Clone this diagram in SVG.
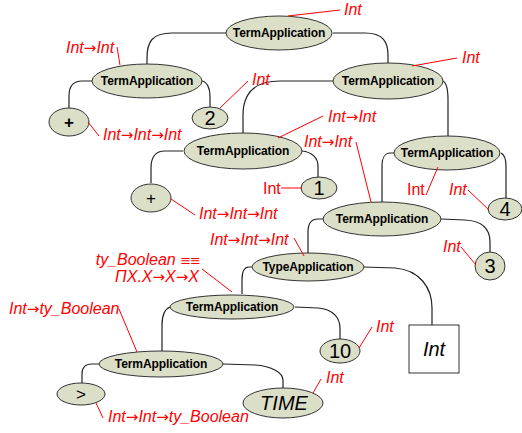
<svg xmlns="http://www.w3.org/2000/svg" width="522" height="433" viewBox="0 0 522 433">
<style>
.n ellipse{fill:#dcdfc8;stroke:#333;stroke-width:1}
.n rect{fill:#fff;stroke:#333;stroke-width:1}
.lbl{font-family:"Liberation Sans",Arial,sans-serif;font-weight:bold;font-size:12px;fill:#000;text-anchor:middle;letter-spacing:-0.1px}
.num{font-family:"Liberation Sans",Arial,sans-serif;font-size:20px;fill:#000;text-anchor:middle}
.it{font-style:italic}
.conn path{fill:none;stroke:#222;stroke-width:1.2}
.ann line{stroke:#f00;stroke-width:1}
.ann text{font-family:"Liberation Sans",Arial,sans-serif;font-size:16px;font-style:italic;fill:#f00}
.ann text.up{font-style:normal}
.ar{font-family:"DejaVu Sans",sans-serif;font-style:normal;font-size:15px}
.eq{font-family:"DejaVu Sans",sans-serif;font-style:normal;font-size:13px;letter-spacing:-1px}
</style>
<rect width="522" height="433" fill="#fff"/>
<g id="connectors" class="conn">
<path d="M226,33 L172,33 C152,33 147,42 147,58 L147,64"/>
<path d="M333,33 L365,33 C383,33 388,42 388,55 L388,63"/>
<path d="M92,81 L82,81 C72,81 69,88 69,96 L69,108"/>
<path d="M202,81 C207,82 210,88 210,96 L210,107"/>
<path d="M333,81 L280,81 C252,81 243,95 243,115 L243,133"/>
<path d="M443,81 C447,83 448,90 448,100 L448,136"/>
<path d="M183,151 L165,151 C155,151 151,158 151,168 L151,183"/>
<path d="M302,151 C312,152 318,158 318,166 L318,178"/>
<path d="M394,153 L390,153 C385,153 382,158 382,166 L382,202"/>
<path d="M501,153 C505,155 506,160 506,166 L506,198"/>
<path d="M323,219 L318,219 C311,219 308,224 308,232 L308,253"/>
<path d="M441,219 L465,220 C484,221 490,230 490,242 L490,252"/>
<path d="M252,267 L249,267 C244,267 242,272 242,280 L242,294"/>
<path d="M363,267 L395,268 C420,270 432,288 432,308 L432,325"/>
<path d="M170,307 C165,309 162,315 162,325 L162,351"/>
<path d="M295,307 L318,308 C333,309 340,318 340,328 L340,339"/>
<path d="M99,364 L92,364 C85,364 82,368 82,374 L82,383"/>
<path d="M223,364 L255,365 C272,366 283,373 283,380 L283,388"/>
</g>
<g id="n1" class="n"><ellipse cx="279" cy="33" rx="53" ry="17"/><text class="lbl" x="279" y="37">TermApplication</text></g>
<g id="n2" class="n"><ellipse cx="147" cy="81" rx="55" ry="17"/><text class="lbl" x="147" y="85">TermApplication</text></g>
<g id="n3" class="n"><ellipse cx="69" cy="122" rx="20" ry="14"/><text class="num" style="font-weight:bold;font-size:17px" x="69" y="128">+</text></g>
<g id="n4" class="n"><ellipse cx="210" cy="118" rx="18" ry="11"/><text class="num" x="210" y="125">2</text></g>
<g id="n5" class="n"><ellipse cx="388" cy="81" rx="55" ry="18"/><text class="lbl" x="388" y="85">TermApplication</text></g>
<g id="n6" class="n"><ellipse cx="243" cy="151" rx="59" ry="18"/><text class="lbl" x="243" y="155">TermApplication</text></g>
<g id="n7" class="n"><ellipse cx="151" cy="198" rx="20" ry="14"/><text class="num" style="font-size:17px" x="151" y="204">+</text></g>
<g id="n8" class="n"><ellipse cx="319" cy="188" rx="18" ry="11"/><text class="num" x="319" y="195">1</text></g>
<g id="n9" class="n"><ellipse cx="447" cy="153" rx="53" ry="17"/><text class="lbl" x="447" y="157">TermApplication</text></g>
<g id="n10" class="n"><ellipse cx="505" cy="209" rx="17" ry="11"/><text class="num" x="505" y="216">4</text></g>
<g id="n11" class="n"><ellipse cx="382" cy="219" rx="59" ry="17"/><text class="lbl" x="382" y="223">TermApplication</text></g>
<g id="n12" class="n"><ellipse cx="490" cy="266" rx="15" ry="14"/><text class="num" x="490" y="273">3</text></g>
<g id="n13" class="n"><ellipse cx="308" cy="267" rx="56" ry="14"/><text class="lbl" x="308" y="271">TypeApplication</text></g>
<g id="n14" class="n"><ellipse cx="232" cy="307" rx="62" ry="12"/><text class="lbl" x="232" y="311">TermApplication</text></g>
<g id="n15" class="n"><ellipse cx="340" cy="351" rx="20" ry="12"/><text class="num" x="340" y="358">10</text></g>
<g id="n16" class="n"><rect x="409" y="325" width="50" height="48"/><text class="num it" x="434" y="356">Int</text></g>
<g id="n17" class="n"><ellipse cx="161" cy="364" rx="62" ry="13"/><text class="lbl" x="161" y="368">TermApplication</text></g>
<g id="n18" class="n"><ellipse cx="81" cy="394" rx="24" ry="11"/><text class="num" style="font-size:17px" x="81" y="400">&gt;</text></g>
<g id="n19" class="n"><ellipse cx="283" cy="403" rx="40" ry="15"/><text class="num it" x="284" y="410">TIME</text></g>
<g id="annotations" class="ann">
<line x1="288" y1="16" x2="340" y2="10"/>
<line x1="117" y1="47" x2="120" y2="65"/>
<line x1="88" y1="122" x2="99" y2="136"/>
<line x1="220" y1="108" x2="248" y2="81"/>
<line x1="412" y1="66" x2="457" y2="58"/>
<line x1="278" y1="138" x2="323" y2="116"/>
<line x1="356" y1="142" x2="371" y2="202"/>
<line x1="281" y1="188" x2="302" y2="188"/>
<line x1="171" y1="199" x2="195" y2="215"/>
<line x1="426" y1="195" x2="438" y2="167"/>
<line x1="468" y1="190" x2="489" y2="210"/>
<line x1="461" y1="247" x2="476" y2="265"/>
<line x1="294" y1="238" x2="304" y2="256"/>
<line x1="202" y1="269" x2="232" y2="292"/>
<line x1="119" y1="309" x2="137" y2="352"/>
<line x1="96" y1="403" x2="103" y2="418"/>
<line x1="359" y1="348" x2="372" y2="327"/>
<line x1="313" y1="393" x2="321" y2="379"/>
<text x="344" y="15">Int</text>
<text x="66" y="53">Int<tspan class="ar">→</tspan>Int</text>
<text x="103" y="140">Int<tspan class="ar">→</tspan>Int<tspan class="ar">→</tspan>Int</text>
<text x="252" y="85">Int</text>
<text x="462" y="63">Int</text>
<text x="328" y="122">Int<tspan class="ar">→</tspan>Int</text>
<text x="304" y="147">Int<tspan class="ar">→</tspan>Int</text>
<text class="up" x="263" y="194">Int</text>
<text x="199" y="219">Int<tspan class="ar">→</tspan>Int<tspan class="ar">→</tspan>Int</text>
<text class="up" x="407" y="195">Int</text>
<text x="449" y="195">Int</text>
<text x="443" y="252">Int</text>
<text x="210" y="245">Int<tspan class="ar">→</tspan>Int<tspan class="ar">→</tspan>Int</text>
<text x="200" y="265" text-anchor="end">ty_Boolean <tspan class="eq">≡≡</tspan></text>
<text x="199" y="282" text-anchor="end">ΠX.X<tspan class="ar">→</tspan>X<tspan class="ar">→</tspan>X</text>
<text x="9" y="314">Int<tspan class="ar">→</tspan>ty_Boolean</text>
<text x="108" y="422">Int<tspan class="ar">→</tspan>Int<tspan class="ar">→</tspan>ty_Boolean</text>
<text x="376" y="332">Int</text>
<text x="326" y="383">Int</text>
</g>
</svg>
